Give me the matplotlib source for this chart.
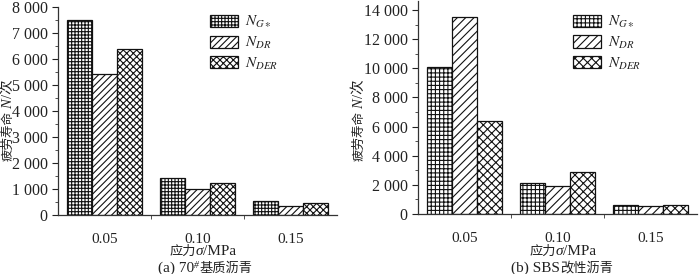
import matplotlib
matplotlib.use("Agg")
import matplotlib.pyplot as plt
from matplotlib.ticker import MultipleLocator, FixedLocator
from matplotlib.transforms import IdentityTransform
import numpy as np

plt.rcParams['font.family'] = ['Liberation Serif', 'Noto Sans CJK SC']
plt.rcParams['mathtext.fontset'] = 'stix'
plt.rcParams['hatch.linewidth'] = 0.8

categories = ['0.05', '0.10', '0.15']
series_labels = [r'$N_{G\ast}$', r'$N_{DR}$', r'$N_{DER}$']

a_G = [7500, 1430, 520]
a_DR = [5420, 1000, 340]
a_DER = [6380, 1220, 450]

b_G = [10100, 2150, 600]
b_DR = [13500, 1900, 560]
b_DER = [6400, 2850, 620]

a_yticks = [0, 1000, 2000, 3000, 4000, 5000, 6000, 7000, 8000]
a_yticklabels = ['0', '1 000', '2 000', '3 000', '4 000', '5 000', '6 000', '7 000', '8 000']
b_yticks = [0, 2000, 4000, 6000, 8000, 10000, 12000, 14000]
b_yticklabels = ['0', '2 000', '4 000', '6 000', '8 000', '10 000', '12 000', '14 000']

W, H = 700, 274
fig = plt.figure(figsize=(W / 100, H / 100), dpi=100)
ax_a = fig.add_axes([58 / W, 1 - 215 / H, 279 / W, 208 / H])
ax_b = fig.add_axes([418 / W, 1 - 214 / H, 279 / W, 212.7 / H])

tc = '#222222'
CJK = 'Noto Sans CJK SC'
SER = 'Liberation Serif'


def draw(ax, series, hatches, ylim, yticks, yticklabels, minor, leg_anchor):
    x = np.arange(len(categories))
    w = 0.8 / 3
    for i, (vals, h) in enumerate(zip(series, hatches)):
        ax.bar(x + (i - 1) * w, vals, w, facecolor='white', edgecolor='#111111',
               hatch=h, linewidth=0.9, label=series_labels[i])
    ax.set_xlim(-0.5, len(categories) - 0.5)
    ax.set_ylim(*ylim)
    ax.set_xticks(x)
    ax.set_xticklabels(categories)
    ax.xaxis.set_minor_locator(FixedLocator([0.5, 1.5]))
    ax.set_yticks(yticks)
    ax.set_yticklabels(yticklabels)
    ax.yaxis.set_minor_locator(MultipleLocator(minor))
    ax.spines['top'].set_visible(False)
    ax.spines['right'].set_visible(False)
    for s in ['left', 'bottom']:
        ax.spines[s].set_linewidth(0.9)
        ax.spines[s].set_color('#333333')
    ax.tick_params(axis='x', which='major', length=0, pad=13, labelsize=11, colors=tc)
    ax.tick_params(axis='x', which='minor', length=3, direction='out', color='#333333')
    ax.tick_params(axis='y', which='major', length=4, direction='out', labelsize=11.5,
                   colors=tc, pad=3.5)
    ax.tick_params(axis='y', which='minor', length=2.5, direction='out', color='#333333')
    leg = ax.legend(loc='upper left', bbox_to_anchor=leg_anchor, frameon=False,
                    fontsize=11, handlelength=1.85, handleheight=0.85,
                    labelspacing=0.3, handletextpad=0.45, borderaxespad=0.0,
                    borderpad=0.0)
    for t in leg.get_texts():
        t.set_color(tc)


draw(ax_a, [a_G, a_DR, a_DER], ['+++++', '/////', 'xxxxx'], (0, 8000),
     a_yticks, a_yticklabels, 500, (0.545, 0.965))
draw(ax_b, [b_G, b_DR, b_DER], ['++++', '////', 'xxxx'], (0, 14600),
     b_yticks, b_yticklabels, 1000, (0.556, 0.94))

renderer = fig.canvas.get_renderer()


def rich(center_px, base_px, pieces, rotation=0, gap=0.0):
    """pieces: (string, family, size, style, shift_px). Pixel coords from top-left."""
    texts = []
    for s, fam, size, style, shift in pieces:
        t = fig.text(0, 0, s, transform=IdentityTransform(), family=[fam, CJK],
                     fontsize=size, style=style, color=tc, ha='left', va='baseline',
                     rotation=rotation, rotation_mode='anchor')
        texts.append((t, shift))
    lens = []
    for t, _ in texts:
        bb = t.get_window_extent(renderer)
        lens.append((bb.height if rotation else bb.width) + gap)
    total = sum(lens) - gap
    acc = 0.0
    for (t, shift), L in zip(texts, lens):
        if rotation:
            t.set_position((base_px - shift, H - center_px - total / 2 + acc))
        else:
            t.set_position((center_px - total / 2 + acc, H - base_px + shift))
        acc += L


def ylab(xbase, ycenter):
    rich(ycenter, xbase, [('疲劳寿命', CJK, 9, 'normal', 0),
                          ('N', SER, 10.5, 'italic', 0),
                          ('/次', SER, 10.5, 'normal', 0)], rotation=90, gap=2.0)


def xlab(xc):
    rich(xc, 255, [('应力', CJK, 9.5, 'normal', 0),
                   ('σ', SER, 11, 'italic', 0),
                   ('/MPa', SER, 11, 'normal', 0)])


ylab(12, 120)
ylab(363, 120)
xlab(203)
xlab(563)
rich(205, 272, [('(a) 70', SER, 11, 'normal', 0),
                ('#', SER, 7, 'italic', 4),
                ('基质沥青', CJK, 9.5, 'normal', 0)])
rich(562, 272, [('(b) SBS', SER, 11, 'normal', 0),
                ('改性沥青', CJK, 9.5, 'normal', 0)])

fig.savefig('out.png', dpi=100)
